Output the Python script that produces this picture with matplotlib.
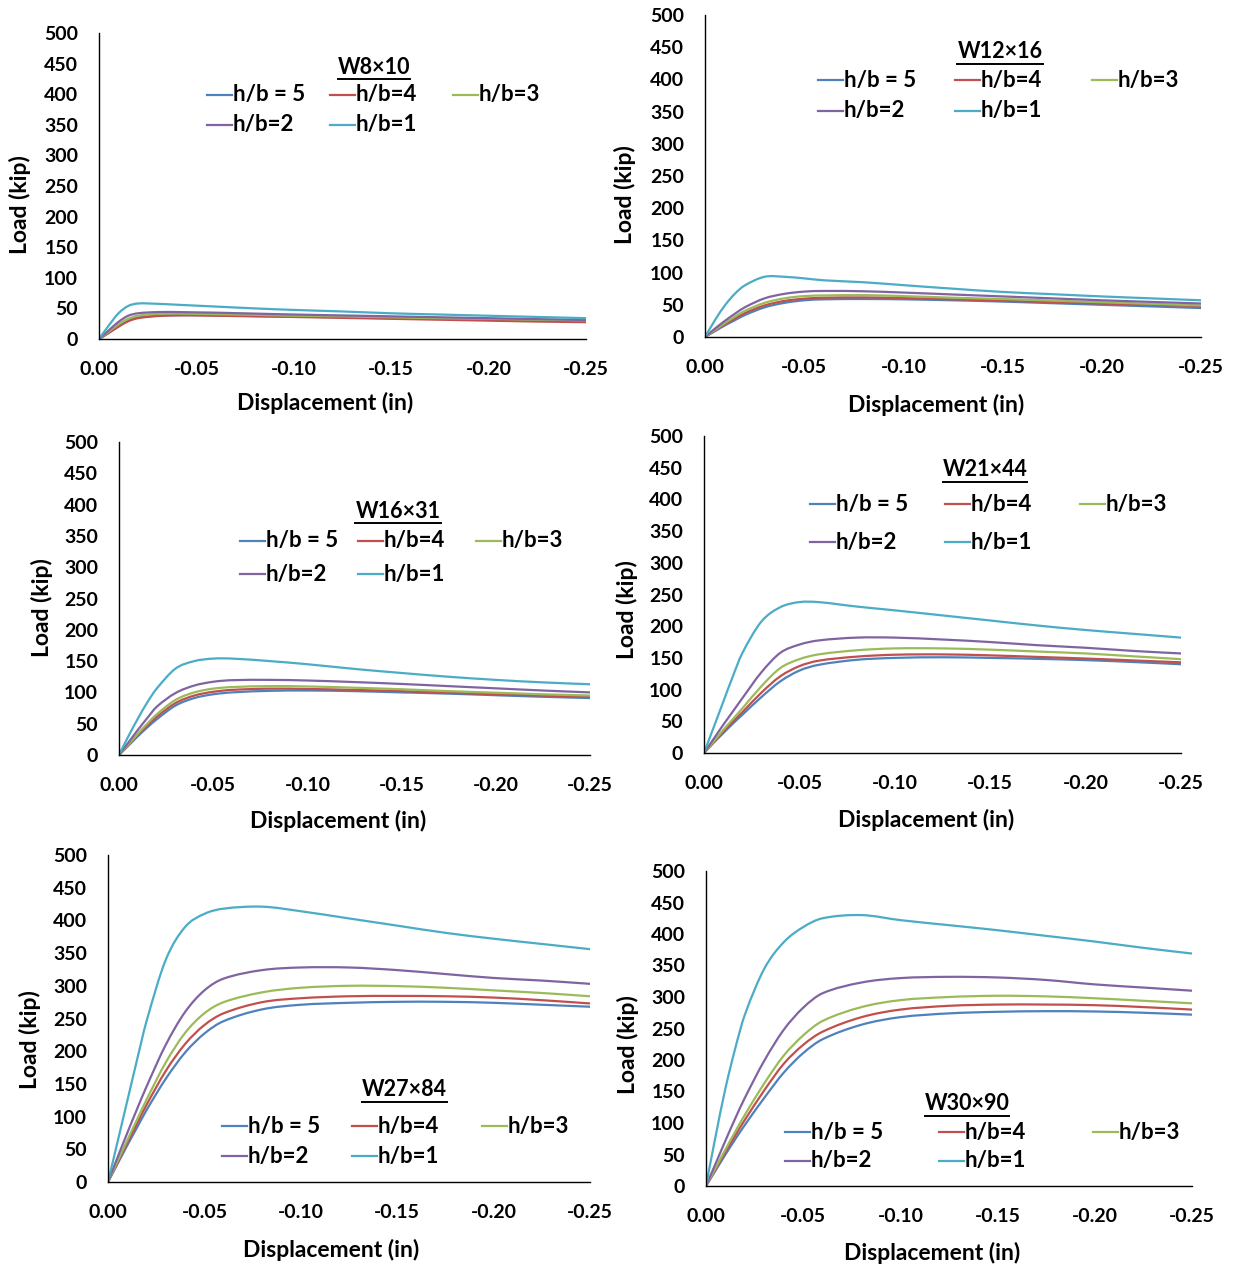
import matplotlib
matplotlib.use("Agg")
import matplotlib.pyplot as plt
from matplotlib.lines import Line2D
from matplotlib.path import Path
from matplotlib.patches import PathPatch

plt.rcParams['font.family'] = ['Lato', 'DejaVu Sans']
plt.rcParams['font.weight'] = 'bold'

# displacement (in), shared by every curve
disp = [0, -0.005, -0.01, -0.015, -0.02, -0.03, -0.04, -0.05, -0.06, -0.08,
        -0.10, -0.125, -0.15, -0.175, -0.20, -0.225, -0.25]

series_names = ['h/b = 5', 'h/b=4', 'h/b=3', 'h/b=2', 'h/b=1']
colors = ['#4F81BD', '#C0504D', '#9BBB59', '#8064A2', '#4BACC6']

# load (kip) for h/b = 5, 4, 3, 2, 1
w8x10 = [
    [0, 10, 21, 30, 35, 38, 39, 39, 38.5, 37.5, 36.5, 35.5, 34, 33, 32, 31, 30],
    [0, 10, 20, 29, 34, 37.5, 38.5, 38.5, 38, 37, 36, 34.5, 33, 31.5, 30, 28.5, 27.5],
    [0, 12, 24, 33, 38, 41, 41.5, 41, 40.5, 39.5, 38, 37, 35.5, 34, 33, 31.5, 30.5],
    [0, 14, 28, 38, 42, 44, 44, 43.5, 43, 41.5, 40, 38.5, 37, 35.5, 34, 32.5, 31],
    [0, 22, 42, 54, 58, 57.5, 56, 54.5, 53, 50, 47.5, 45, 42, 40, 38, 36, 34],
]
w12x16 = [
    [0, 9, 18, 26, 34, 46, 53, 57, 58.5, 59, 58.5, 57, 55, 52.5, 50, 47.5, 45],
    [0, 10, 19.5, 28.5, 37, 49, 56, 59.5, 61, 61.5, 60.5, 58.5, 56.5, 54, 52, 50, 48],
    [0, 11, 21.5, 31.5, 40.5, 53, 60, 63.5, 64.5, 65, 63.5, 61, 59, 56.5, 54, 51.5, 49],
    [0, 13, 25, 36, 46, 60, 67, 70.5, 71.5, 71, 69, 66, 63, 60, 57, 54.5, 52],
    [0, 26, 49, 67, 80, 93.5, 93.5, 91, 88, 85, 80.5, 75, 70, 66.5, 63, 60, 57],
]
w16x31 = [
    [0, 15, 30, 44, 57, 79, 91, 97, 100, 102.5, 103, 102, 100, 98, 95.5, 93, 91],
    [0, 16, 32, 47, 61, 83, 95, 101, 104, 106, 105.5, 104, 102, 99.5, 97, 95, 93],
    [0, 17, 34, 50, 65, 88, 100, 106, 108.5, 110, 109.5, 107.5, 105, 102, 99.5, 97, 95],
    [0, 20, 40, 59, 77, 99, 111, 117, 119.5, 120, 119, 116.5, 113.5, 110, 106.5, 103, 100],
    [0, 30, 58, 84, 106, 138, 150, 154, 154, 150, 145, 137.5, 131, 125, 120, 116, 113],
]
w21x44 = [
    [0, 16, 31, 46, 60, 88, 113, 130, 139, 147, 150, 151, 150, 148.5, 146.5, 143.5, 140],
    [0, 17, 33, 49, 64, 95, 121, 137, 145.5, 152, 155, 155.5, 154, 151.5, 149, 146, 143],
    [0, 18, 36, 53, 70, 105, 134, 148, 155.5, 162, 165, 165, 163, 160, 157, 152.5, 148],
    [0, 22, 44, 65, 86, 127, 158, 171, 177.5, 182, 182, 179, 175, 170, 166, 161, 157],
    [0, 40, 80, 120, 157, 207, 230, 238, 238, 231, 225, 217, 209, 201, 194, 188, 182],
]
w27x84 = [
    [0, 28, 56, 83, 110, 158, 198, 227, 246, 264, 271, 274, 275.5, 275.5, 274, 271, 268],
    [0, 30, 60, 89, 118, 170, 211, 240, 258, 275, 281, 284, 284.5, 284, 282, 278, 273],
    [0, 32, 64, 95, 126, 183, 228, 258, 275, 290, 297, 300, 299.5, 297, 293, 289, 284],
    [0, 38, 75, 111, 146, 210, 260, 293, 311, 324, 328, 328, 324, 318, 312, 308, 303],
    [0, 62, 124, 186, 246, 340, 390, 410, 418, 421, 414, 403, 392, 381, 372, 364, 356],
]
w30x90 = [
    [0, 25, 50, 74, 97, 140, 180, 211, 233, 256, 268, 274, 276.5, 277.5, 277, 275, 272],
    [0, 27, 54, 80, 105, 152, 194, 224, 245, 268, 280, 286, 288, 288, 287, 284, 280],
    [0, 29, 58, 86, 113, 163, 207, 239, 262, 284, 295, 300, 302, 301, 298, 294, 290],
    [0, 36, 72, 107, 140, 199, 248, 283, 306, 323, 330, 332, 331, 327, 320, 315, 310],
    [0, 80, 155, 218, 272, 345, 387, 411, 425, 430, 422, 414, 406, 397, 388, 378, 369],
]

sections = ['W8×10', 'W12×16', 'W16×31', 'W21×44', 'W27×84', 'W30×90']
panel_data = [w8x10, w12x16, w16x31, w21x44, w27x84, w30x90]

W, H = 1234, 1266
# layout in pixels: axis x0, x1, y(500), y(0)
boxes = [(99, 586, 33, 339), (705, 1201, 15, 337), (119, 590, 442, 755),
         (704, 1181, 436, 753), (108, 590, 855, 1182), (706, 1192, 871, 1186)]
xlab_pos = [(325, 403), (936, 405), (338, 821), (926, 820), (331, 1250), (932, 1253)]
ylab_pos = [(20, 205), (625, 195), (42, 608), (627, 610), (30, 1040), (628, 1045)]
title_pos = [(374, 67), (1000, 52), (398, 511), (985, 470), (404, 1090), (967, 1104)]
# legend: first handle x, column width, row1 y, row2 y
leg_pos = [(207, 123, 95, 125), (818, 137, 80, 111), (240, 118, 541, 574),
           (810, 135, 504, 542), (222, 130, 1126, 1156), (785, 154, 1132, 1161)]

fig = plt.figure(figsize=(W / 100, H / 100), dpi=100)

def fx(px):
    return px / W

def fy(py):
    return 1 - py / H

def smooth_path(xs, ys):
    # smoothed line like Excel: cubic segments through the read points
    n = len(xs)
    slopes = []
    for i in range(n):
        a = max(i - 1, 0)
        b = min(i + 1, n - 1)
        slopes.append((ys[b] - ys[a]) / (xs[b] - xs[a]))
    verts = [(xs[0], ys[0])]
    codes = [Path.MOVETO]
    for i in range(n - 1):
        h = xs[i + 1] - xs[i]
        c1 = (xs[i] + h / 3, ys[i] + slopes[i] * h / 3)
        c2 = (xs[i + 1] - h / 3, ys[i + 1] - slopes[i + 1] * h / 3)
        verts += [c1, c2, (xs[i + 1], ys[i + 1])]
        codes += [Path.CURVE4] * 3
    return Path(verts, codes)

titles = []
for i in range(6):
    x0, x1, ytop, ybot = boxes[i]
    ax = fig.add_axes([fx(x0), fy(ybot), (x1 - x0) / W, (ybot - ytop) / H])
    for k in range(5):
        ax.add_patch(PathPatch(smooth_path(disp, panel_data[i][k]), fill=False,
                               edgecolor=colors[k], lw=1.6, capstyle='round'))
    ax.set_xlim(0, -0.25)
    ax.set_ylim(0, 500)
    ax.set_xticks([0, -0.05, -0.10, -0.15, -0.20, -0.25])
    ax.set_xticklabels(['0.00', '-0.05', '-0.10', '-0.15', '-0.20', '-0.25'])
    ax.set_yticks(range(0, 501, 50))
    ax.tick_params(axis='both', length=0, labelsize=14)
    ax.tick_params(axis='y', pad=15)
    ax.tick_params(axis='x', pad=16)
    for s in ['top', 'right']:
        ax.spines[s].set_visible(False)
    for s in ['left', 'bottom']:
        ax.spines[s].set_color('black')
        ax.spines[s].set_linewidth(1.0)
    ax.patch.set_alpha(0)

    fig.text(fx(xlab_pos[i][0]), fy(xlab_pos[i][1]), 'Displacement (in)',
             ha='center', va='center', fontsize=16.5, fontweight='bold')
    fig.text(fx(ylab_pos[i][0]), fy(ylab_pos[i][1]), 'Load (kip)', rotation=90,
             ha='center', va='center', fontsize=16.5, fontweight='bold')
    t = fig.text(fx(title_pos[i][0]), fy(title_pos[i][1]), sections[i],
                 ha='center', va='center', fontsize=15.5, fontweight='bold')
    titles.append(t)

    hx, cw, r1, r2 = leg_pos[i]
    slots = [(0, r1), (1, r1), (2, r1), (0, r2), (1, r2)]
    for k in range(5):
        c, ry = slots[k]
        lx = hx + c * cw
        fig.add_artist(Line2D([fx(lx), fx(lx + 25)], [fy(ry), fy(ry)],
                              transform=fig.transFigure, color=colors[k], lw=1.6))
        fig.text(fx(lx + 26), fy(ry), series_names[k], ha='left', va='center',
                 fontsize=16, fontweight='bold')

# underline the section names
renderer = fig.canvas.get_renderer()
for t in titles:
    bb = t.get_window_extent(renderer)
    yl = (bb.y0 - 1) / H
    fig.add_artist(Line2D([bb.x0 / W, bb.x1 / W], [yl, yl],
                          transform=fig.transFigure, color='black', lw=1.4))

fig.savefig('out.png', dpi=100)
